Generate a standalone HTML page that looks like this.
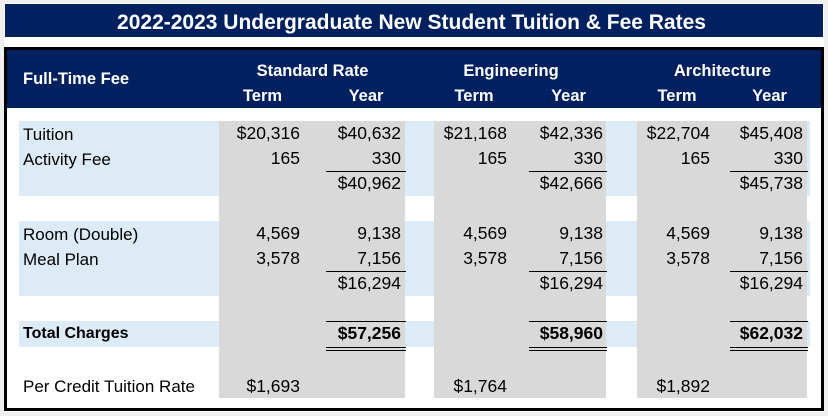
<!DOCTYPE html>
<html>
<head>
<meta charset="utf-8">
<style>
html,body{margin:0;padding:0;}
body{width:828px;height:416px;background:#efefef;position:relative;overflow:hidden;font-family:"Liberation Sans",Arial,sans-serif;color:#000;}
.a{position:absolute;}
.t{position:absolute;white-space:nowrap;line-height:1;}
.r{text-align:right;width:150px;}
.c{text-align:center;width:200px;}
.n{font-size:17.5px;}
.l{font-size:17px;}
.h{font-size:16.5px;font-weight:bold;color:#fff;}
.line{position:absolute;height:1px;background:#000;}
</style>
</head>
<body>
<!-- white panel -->
<div class="a" style="left:4px;top:3px;width:820px;height:409px;background:#fff;"></div>
<!-- title -->
<div class="a" style="left:5px;top:4px;width:818px;height:33px;background:#002060;"></div>
<div class="t" style="left:0;top:12.2px;width:823px;text-align:center;font-size:21px;font-weight:bold;color:#fff;">2022-2023 Undergraduate New Student Tuition &amp; Fee Rates</div>

<!-- box -->
<div class="a" style="left:4px;top:47px;width:814px;height:358px;border:3px solid #000;background:#fff;"></div>
<div class="a" style="left:7px;top:50px;width:814px;height:58px;background:#002060;"></div>

<!-- header text -->
<div class="t h" style="left:23px;top:71px;">Full-Time Fee</div>
<div class="t h c" style="left:212.5px;top:63.3px;">Standard Rate</div>
<div class="t h c" style="left:411px;top:63.3px;">Engineering</div>
<div class="t h c" style="left:622.5px;top:63.3px;">Architecture</div>
<div class="t h c" style="left:162.5px;top:87.7px;">Term</div>
<div class="t h c" style="left:266px;top:87.7px;">Year</div>
<div class="t h c" style="left:374px;top:87.7px;">Term</div>
<div class="t h c" style="left:468.5px;top:87.7px;">Year</div>
<div class="t h c" style="left:577px;top:87.7px;">Term</div>
<div class="t h c" style="left:669.5px;top:87.7px;">Year</div>

<!-- blue bands -->
<div class="a" style="left:19px;top:121px;width:791px;height:75px;background:#DDEBF7;"></div>
<div class="a" style="left:19px;top:221px;width:791px;height:75px;background:#DDEBF7;"></div>
<div class="a" style="left:19px;top:321px;width:791px;height:26px;background:#DDEBF7;"></div>

<!-- gray columns -->
<div class="a" style="left:219px;top:121px;width:186px;height:277px;background:#D9D9D9;"></div>
<div class="a" style="left:434px;top:121px;width:172px;height:277px;background:#D9D9D9;"></div>
<div class="a" style="left:637px;top:121px;width:170px;height:277px;background:#D9D9D9;"></div>

<!-- lines -->
<div class="line" style="left:326px;top:171px;width:80px;"></div>
<div class="line" style="left:529px;top:171px;width:78px;"></div>
<div class="line" style="left:730px;top:171px;width:78px;"></div>
<div class="line" style="left:326px;top:271px;width:80px;"></div>
<div class="line" style="left:529px;top:271px;width:78px;"></div>
<div class="line" style="left:730px;top:271px;width:78px;"></div>
<div class="line" style="left:326px;top:321px;width:80px;"></div>
<div class="line" style="left:529px;top:321px;width:78px;"></div>
<div class="line" style="left:730px;top:321px;width:78px;"></div>
<div class="line" style="left:326px;top:347px;width:80px;"></div>
<div class="line" style="left:529px;top:347px;width:78px;"></div>
<div class="line" style="left:730px;top:347px;width:78px;"></div>
<div class="line" style="left:326px;top:350px;width:80px;"></div>
<div class="line" style="left:529px;top:350px;width:78px;"></div>
<div class="line" style="left:730px;top:350px;width:78px;"></div>

<!-- labels -->
<div class="t l" style="left:23px;top:125.6px;">Tuition</div>
<div class="t l" style="left:23px;top:150.6px;">Activity Fee</div>
<div class="t l" style="left:23px;top:225.6px;">Room (Double)</div>
<div class="t l" style="left:23px;top:250.6px;">Meal Plan</div>
<div class="t" style="left:23px;top:326.2px;font-size:16px;font-weight:bold;">Total Charges</div>
<div class="t l" style="left:23px;top:378.1px;">Per Credit Tuition Rate</div>

<!-- Standard -->
<div class="t n r" style="left:150px;top:125.2px;">$20,316</div>
<div class="t n r" style="left:251px;top:125.2px;">$40,632</div>
<div class="t n r" style="left:150px;top:150.2px;">165</div>
<div class="t n r" style="left:251px;top:150.2px;">330</div>
<div class="t n r" style="left:251px;top:175.2px;">$40,962</div>
<div class="t n r" style="left:150px;top:225.2px;">4,569</div>
<div class="t n r" style="left:251px;top:225.2px;">9,138</div>
<div class="t n r" style="left:150px;top:250.2px;">3,578</div>
<div class="t n r" style="left:251px;top:250.2px;">7,156</div>
<div class="t n r" style="left:251px;top:275.2px;">$16,294</div>
<div class="t n r" style="left:251px;top:325.2px;font-weight:bold;">$57,256</div>
<div class="t n r" style="left:150px;top:377.7px;">$1,693</div>

<!-- Engineering -->
<div class="t n r" style="left:357px;top:125.2px;">$21,168</div>
<div class="t n r" style="left:453px;top:125.2px;">$42,336</div>
<div class="t n r" style="left:357px;top:150.2px;">165</div>
<div class="t n r" style="left:453px;top:150.2px;">330</div>
<div class="t n r" style="left:453px;top:175.2px;">$42,666</div>
<div class="t n r" style="left:357px;top:225.2px;">4,569</div>
<div class="t n r" style="left:453px;top:225.2px;">9,138</div>
<div class="t n r" style="left:357px;top:250.2px;">3,578</div>
<div class="t n r" style="left:453px;top:250.2px;">7,156</div>
<div class="t n r" style="left:453px;top:275.2px;">$16,294</div>
<div class="t n r" style="left:453px;top:325.2px;font-weight:bold;">$58,960</div>
<div class="t n r" style="left:357px;top:377.7px;">$1,764</div>

<!-- Architecture -->
<div class="t n r" style="left:560px;top:125.2px;">$22,704</div>
<div class="t n r" style="left:653px;top:125.2px;">$45,408</div>
<div class="t n r" style="left:560px;top:150.2px;">165</div>
<div class="t n r" style="left:653px;top:150.2px;">330</div>
<div class="t n r" style="left:653px;top:175.2px;">$45,738</div>
<div class="t n r" style="left:560px;top:225.2px;">4,569</div>
<div class="t n r" style="left:653px;top:225.2px;">9,138</div>
<div class="t n r" style="left:560px;top:250.2px;">3,578</div>
<div class="t n r" style="left:653px;top:250.2px;">7,156</div>
<div class="t n r" style="left:653px;top:275.2px;">$16,294</div>
<div class="t n r" style="left:653px;top:325.2px;font-weight:bold;">$62,032</div>
<div class="t n r" style="left:560px;top:377.7px;">$1,892</div>
</body>
</html>
